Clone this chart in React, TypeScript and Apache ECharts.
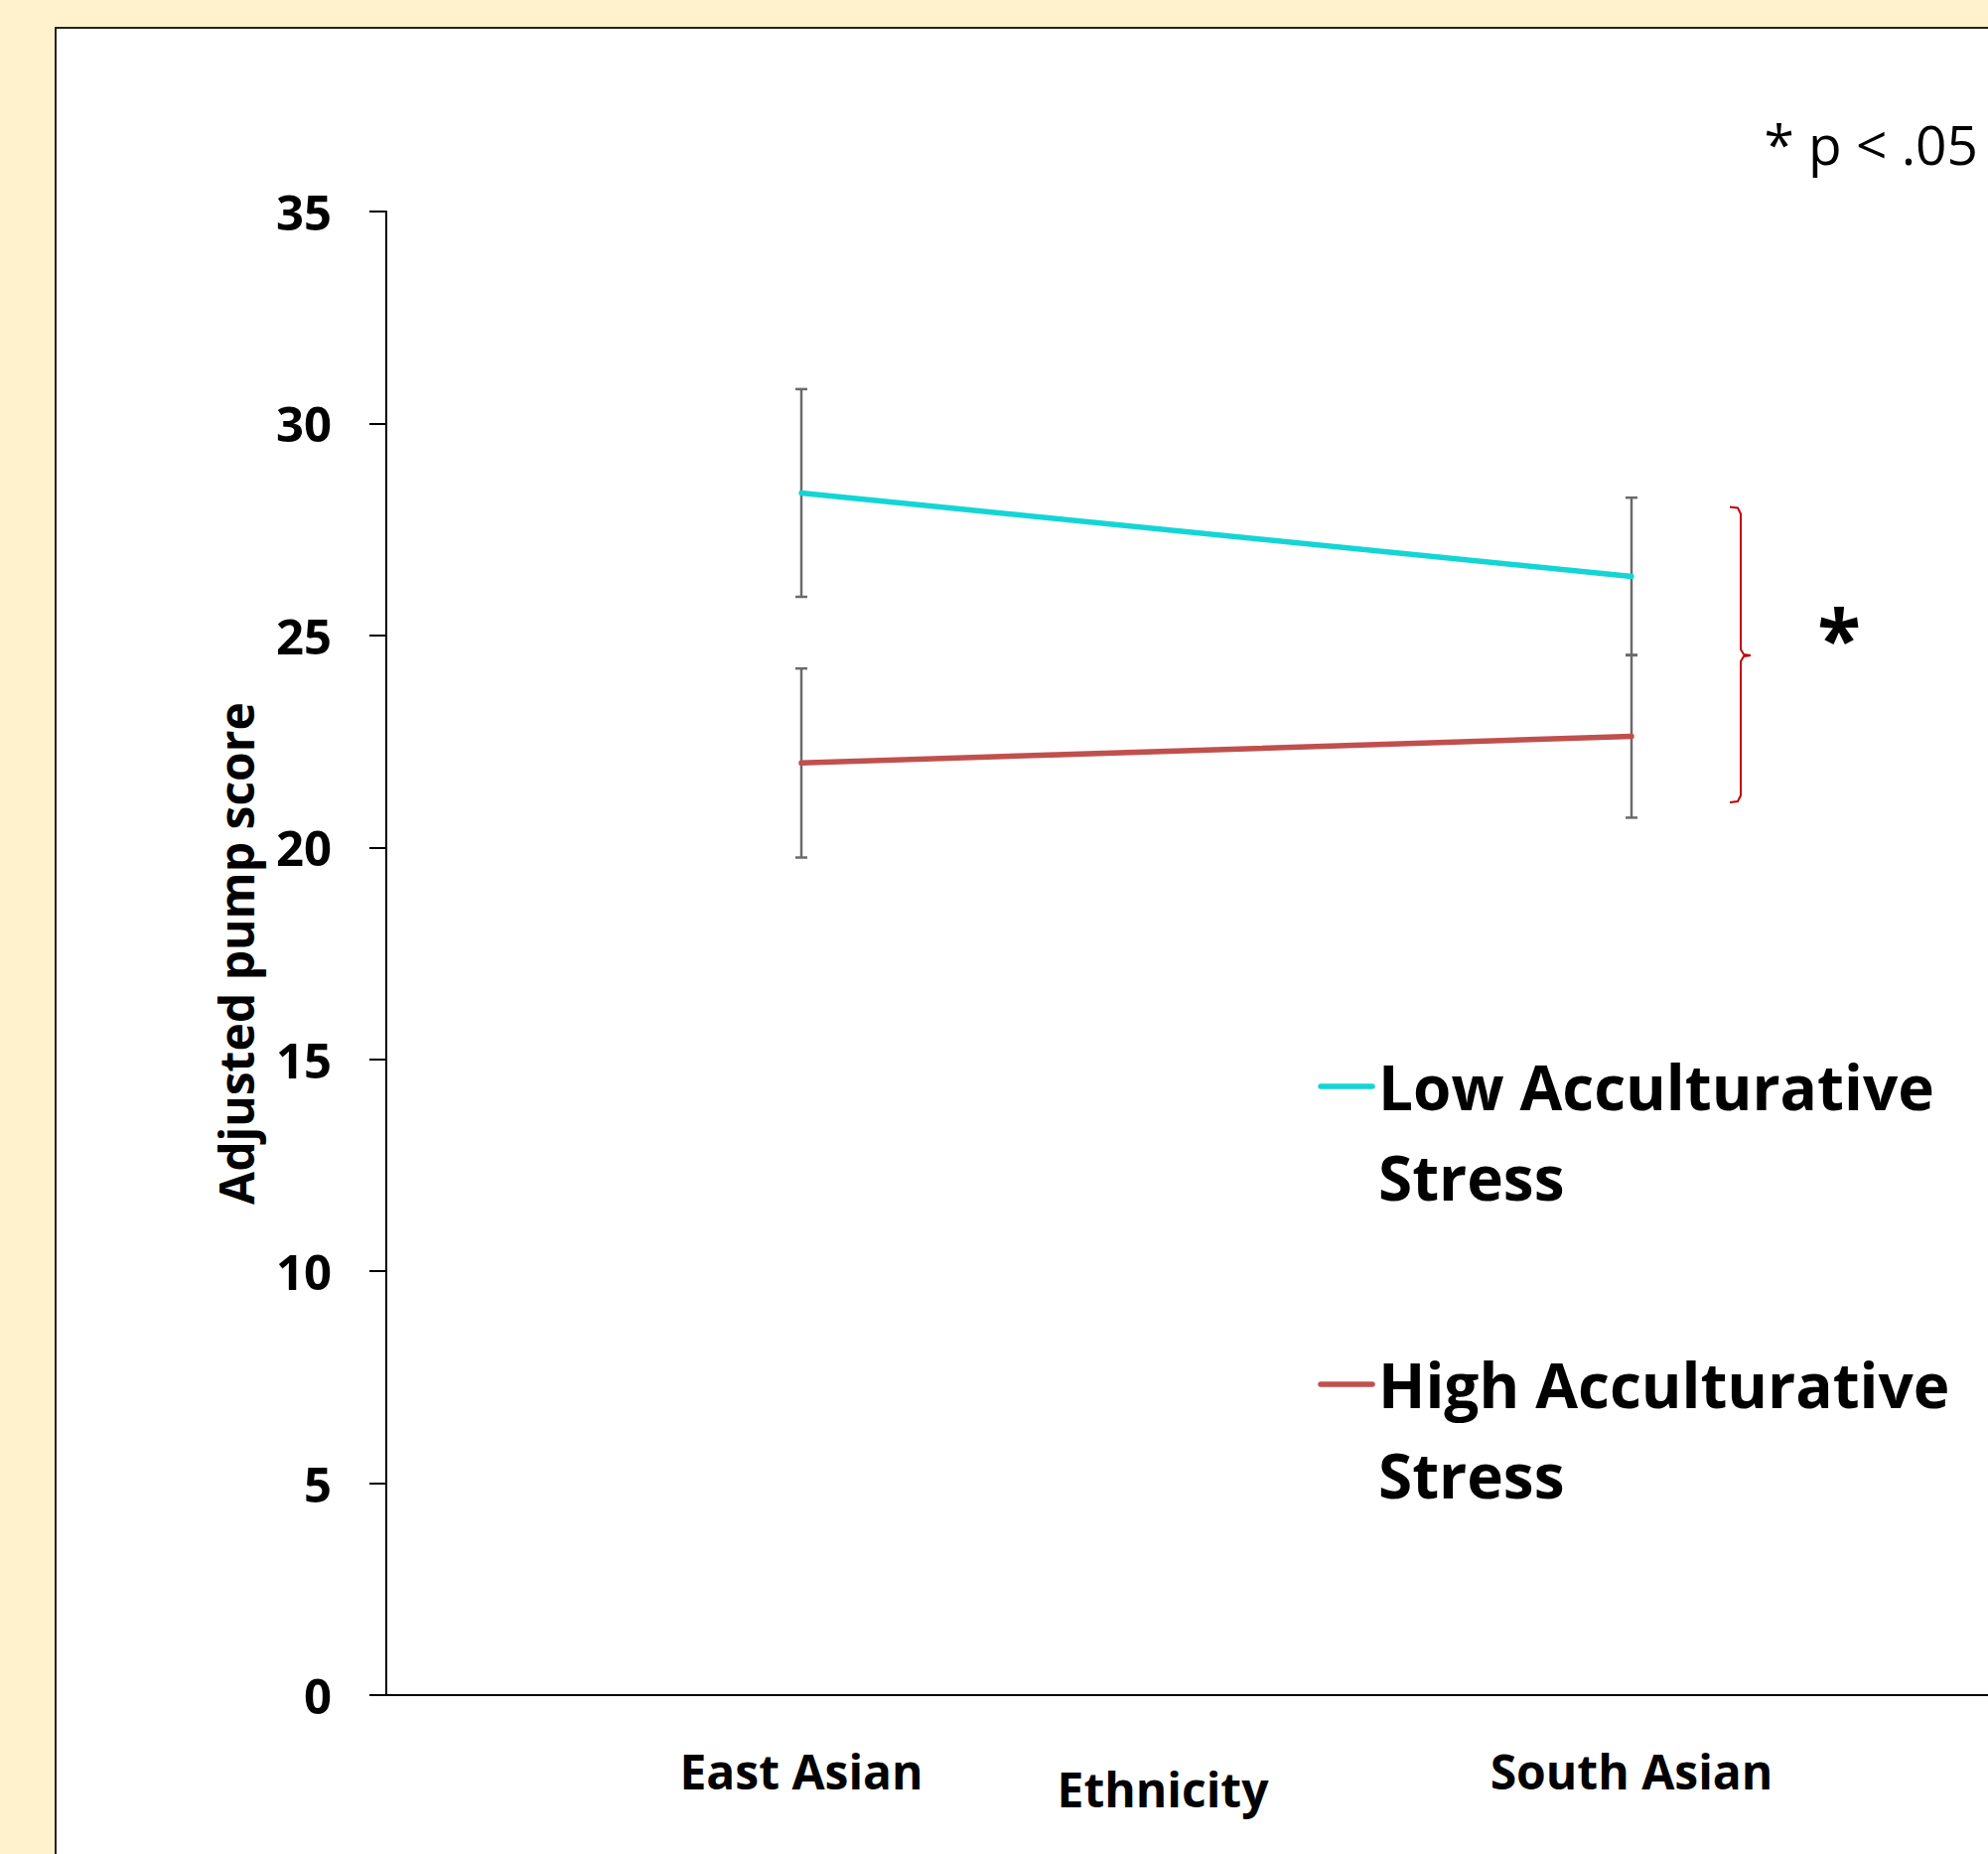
import React, { useEffect, useRef } from "react";
import * as echarts from "echarts";

const categories = ["East Asian", "South Asian"];
const seriesNames = ["Low Acculturative Stress", "High Acculturative Stress"];
const lowStress = [28.36, 26.39];
const highStress = [21.99, 22.62];
const lowStressErr = [2.45, 1.86];
const highStressErr = [2.23, 1.92];
const yMin = 0;
const yMax = 35;
const yInterval = 5;
const xAxisTitle = "Ethnicity";
const yAxisTitle = "Adjusted pump score";
const sigNote = "* p < .05";
const sigMark = "*";
// significance bracket: top, middle, bottom (in y-axis units)
const bracketValues = [28.03, 24.53, 21.06];

const FONT = "'Open Sans', 'Noto Sans', sans-serif";
const CYAN = "#14D5D5";
const RED = "#C0504D";
const GRAY = "#6A6A6A";

export default function App() {
  const ref = useRef<HTMLDivElement>(null);

  useEffect(() => {
    if (!ref.current) return;
    const chart = echarts.init(ref.current, undefined, { renderer: "svg" });

    const errData = (vals: number[], errs: number[]) =>
      vals.map((v, i) => [i, v - errs[i], v + errs[i]]);

    const errSeries = (name: string, vals: number[], errs: number[]) => ({
      type: "custom",
      name: name + " error",
      z: 1,
      silent: true,
      data: errData(vals, errs),
      renderItem: (_p: any, api: any) => {
        const idx = api.value(0);
        const lo = api.coord([idx, api.value(1)]);
        const hi = api.coord([idx, api.value(2)]);
        const hw = 6;
        const st = { stroke: GRAY, lineWidth: 2.5 };
        return {
          type: "group",
          children: [
            { type: "line", shape: { x1: hi[0], y1: hi[1], x2: lo[0], y2: lo[1] }, style: st },
            { type: "line", shape: { x1: hi[0] - hw, y1: hi[1], x2: hi[0] + hw, y2: hi[1] }, style: st },
            { type: "line", shape: { x1: lo[0] - hw, y1: lo[1], x2: lo[0] + hw, y2: lo[1] }, style: st },
          ],
        };
      },
    });

    const base: any = {
      animation: false,
      backgroundColor: "transparent",
      grid: { left: 389, top: 213, right: 59, bottom: 160, containLabel: false },
      xAxis: {
        type: "category",
        data: categories,
        boundaryGap: true,
        axisLine: { show: true, lineStyle: { color: "#000", width: 2 } },
        axisTick: { show: false },
        axisLabel: {
          color: "#000",
          fontFamily: FONT,
          fontWeight: "bold",
          fontSize: 48,
          margin: 52,
        },
      },
      yAxis: {
        type: "value",
        min: yMin,
        max: yMax,
        interval: yInterval,
        name: yAxisTitle,
        nameLocation: "middle",
        nameGap: 128,
        nameTextStyle: { color: "#000", fontFamily: FONT, fontWeight: "bold", fontSize: 48 },
        splitLine: { show: false },
        axisLine: { show: true, lineStyle: { color: "#000", width: 2 } },
        axisTick: { show: true, length: 17, lineStyle: { color: "#000", width: 2 } },
        axisLabel: {
          color: "#000",
          fontFamily: FONT,
          fontWeight: "bold",
          fontSize: 49,
          margin: 55,
        },
      },
      series: [
        errSeries(seriesNames[0], lowStress, lowStressErr),
        errSeries(seriesNames[1], highStress, highStressErr),
        {
          type: "line",
          name: seriesNames[0],
          data: lowStress,
          z: 3,
          showSymbol: false,
          lineStyle: { color: CYAN, width: 5.5, cap: "round" },
          itemStyle: { color: CYAN },
        },
        {
          type: "line",
          name: seriesNames[1],
          data: highStress,
          z: 3,
          showSymbol: false,
          lineStyle: { color: RED, width: 5.5, cap: "round" },
          itemStyle: { color: RED },
        },
      ],
    };
    chart.setOption(base);

    const yPx = (v: number) => chart.convertToPixel({ yAxisIndex: 0 }, v) as number;
    const [bt, bm, bb] = bracketValues.map(yPx);
    const bx = 1753;

    const legendItem = (y: number, color: string, label: string) => [
      {
        type: "line",
        shape: { x1: 1330, y1: y, x2: 1382, y2: y },
        style: { stroke: color, lineWidth: 5.5, lineCap: "round" },
      },
      {
        type: "text",
        x: 1388,
        y: y,
        style: {
          text: label,
          fill: "#000",
          font: `bold 62px ${FONT}`,
          textVerticalAlign: "middle",
          textAlign: "left",
        },
      },
      {
        type: "text",
        x: 1388,
        y: y + 91,
        style: {
          text: "Stress",
          fill: "#000",
          font: `bold 62px ${FONT}`,
          textVerticalAlign: "middle",
          textAlign: "left",
        },
      },
    ];

    chart.setOption({
      graphic: [
        ...legendItem(1094, CYAN, "Low Acculturative"),
        ...legendItem(1394, RED, "High Acculturative"),
        {
          type: "text",
          x: 1171,
          y: 1801,
          style: {
            text: xAxisTitle,
            fill: "#000",
            font: `bold 48px ${FONT}`,
            textAlign: "center",
            textVerticalAlign: "middle",
          },
        },
        {
          type: "text",
          x: 1992,
          y: 144,
          style: {
            text: sigNote,
            fill: "#000",
            font: `55px ${FONT}`,
            textAlign: "right",
            textVerticalAlign: "middle",
          },
        },
        {
          type: "text",
          x: 1852,
          y: 640,
          style: {
            text: sigMark,
            fill: "#000",
            font: `bold 80px ${FONT}`,
            textAlign: "center",
            textVerticalAlign: "middle",
          },
        },
        {
          type: "polyline",
          shape: {
            points: [
              [bx - 11, bt],
              [bx - 3, bt + 1],
              [bx, bt + 7],
              [bx, bm - 6],
              [bx + 3, bm - 1],
              [bx + 10, bm],
              [bx + 3, bm + 1],
              [bx, bm + 6],
              [bx, bb - 7],
              [bx - 3, bb - 1],
              [bx - 11, bb],
            ],
          },
          style: { stroke: "#C00000", lineWidth: 2, fill: null },
        },
      ],
    });

    return () => chart.dispose();
  }, []);

  return (
    <div
      style={{
        position: "absolute",
        left: 0,
        top: 0,
        width: 2002,
        height: 1867,
        overflow: "hidden",
        background: "#FFF2CC",
      }}
    >
      <div
        style={{
          position: "absolute",
          left: 55,
          top: 27,
          width: 2200,
          height: 2000,
          background: "#FFFFFF",
          border: "2px solid #222",
          boxSizing: "border-box",
        }}
      />
      <div
        ref={ref}
        style={{ position: "absolute", left: 0, top: 0, width: 2120, height: 1867 }}
      />
    </div>
  );
}
